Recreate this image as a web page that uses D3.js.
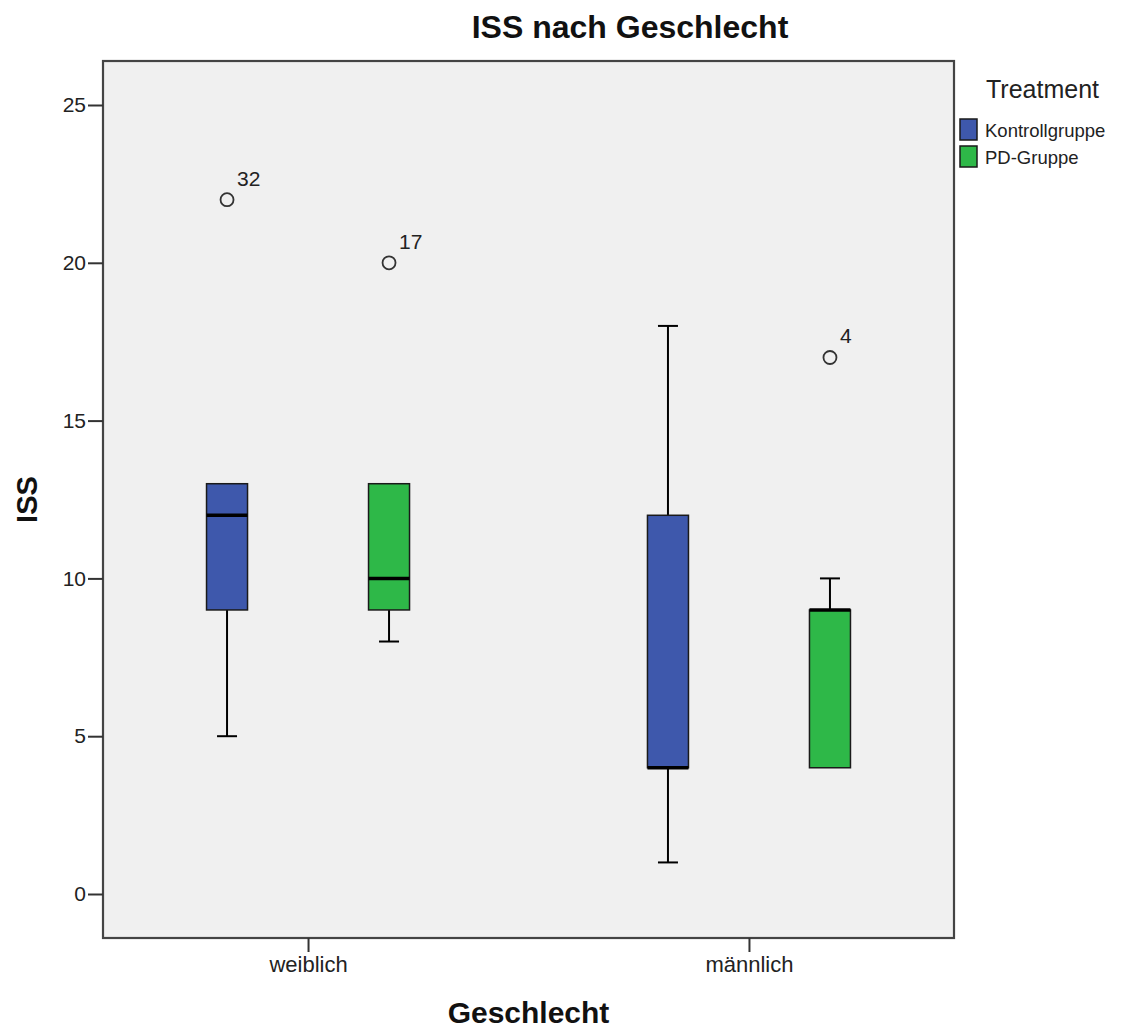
<!DOCTYPE html>
<html><head><meta charset="utf-8">
<script src="https://cdn.jsdelivr.net/npm/d3@7"></script>
<style>body{margin:0;background:#fff;} text{font-family:"Liberation Sans",Arial,sans-serif;}</style>
</head><body>
<script>
const categories = ["weiblich", "männlich"];
const groups = ["Kontrollgruppe", "PD-Gruppe"];
const groupColors = ["#3E58AC", "#2EB848"];
// [min, q1, median, q3, max] per category, per group
const kontrollStats = [[5, 9, 12, 13, 13], [1, 4, 4, 12, 18]];
const pdStats = [[8, 9, 10, 13, 13], [4, 4, 9, 9, 10]];
// outliers: [category, group, value, case label]
const outliers = [["weiblich", "Kontrollgruppe", 22, "32"], ["weiblich", "PD-Gruppe", 20, "17"], ["männlich", "PD-Gruppe", 17, "4"]];
const yTicks = [0, 5, 10, 15, 20, 25];

const W = 1140, H = 1028;
const m = {left: 103, top: 61, right: 954, bottom: 938};
const svg = d3.select("body").append("svg").attr("width", W).attr("height", H);

const x = d3.scalePoint().domain(categories).range([m.left, m.right]).padding(0.465);
const xg = d3.scalePoint().domain(groups).range([-81, 81]);
const y = d3.scaleLinear().domain([0, 25]).range([894, 105]);
const color = d3.scaleOrdinal().domain(groups).range(groupColors);

svg.append("rect").attr("x", m.left).attr("y", m.top).attr("width", m.right - m.left).attr("height", m.bottom - m.top).attr("fill", "#F0F0F0");

const boxes = [];
categories.forEach((c, i) => {
  boxes.push({cat: c, grp: groups[0], s: kontrollStats[i]});
  boxes.push({cat: c, grp: groups[1], s: pdStats[i]});
});
const bw = 41, cap = 20;
const g = svg.append("g");
boxes.forEach(b => {
  const cx = x(b.cat) + xg(b.grp);
  const [mn, q1, md, q3, mx] = b.s;
  if (mx > q3) {
    g.append("line").attr("x1", cx).attr("x2", cx).attr("y1", y(q3)).attr("y2", y(mx)).attr("stroke", "#000").attr("stroke-width", 2);
    g.append("line").attr("x1", cx - cap / 2).attr("x2", cx + cap / 2).attr("y1", y(mx)).attr("y2", y(mx)).attr("stroke", "#000").attr("stroke-width", 2);
  }
  if (mn < q1) {
    g.append("line").attr("x1", cx).attr("x2", cx).attr("y1", y(q1)).attr("y2", y(mn)).attr("stroke", "#000").attr("stroke-width", 2);
    g.append("line").attr("x1", cx - cap / 2).attr("x2", cx + cap / 2).attr("y1", y(mn)).attr("y2", y(mn)).attr("stroke", "#000").attr("stroke-width", 2);
  }
  g.append("rect").attr("x", cx - bw / 2).attr("y", y(q3)).attr("width", bw).attr("height", y(q1) - y(q3))
    .attr("fill", color(b.grp)).attr("stroke", "#1a1a1a").attr("stroke-width", 1.5);
  g.append("line").attr("x1", cx - bw / 2).attr("x2", cx + bw / 2).attr("y1", y(md)).attr("y2", y(md)).attr("stroke", "#000").attr("stroke-width", 3.5);
});

outliers.forEach(o => {
  const cx = x(o[0]) + xg(o[1]);
  svg.append("circle").attr("cx", cx).attr("cy", y(o[2])).attr("r", 6.5).attr("fill", "none").attr("stroke", "#333").attr("stroke-width", 1.8);
  svg.append("text").attr("x", cx + 10).attr("y", y(o[2]) - 14).attr("font-size", 21).attr("fill", "#222").text(o[3]);
});

// frame
svg.append("rect").attr("x", m.left).attr("y", m.top).attr("width", m.right - m.left).attr("height", m.bottom - m.top)
  .attr("fill", "none").attr("stroke", "#444").attr("stroke-width", 2.2);

// y axis
const ya = svg.append("g").attr("transform", `translate(${m.left},0)`).call(d3.axisLeft(y).tickValues(yTicks).tickSize(15).tickPadding(2));
ya.select(".domain").remove();
ya.selectAll(".tick line").attr("stroke", "#333").attr("stroke-width", 2);
ya.selectAll(".tick text").attr("font-size", 21).attr("fill", "#222").style("font-family", "Liberation Sans, Arial, sans-serif");

// x axis
const xa = svg.append("g").attr("transform", `translate(0,${m.bottom})`).call(d3.axisBottom(x).tickSize(14).tickPadding(4));
xa.select(".domain").remove();
xa.selectAll(".tick line").attr("stroke", "#333").attr("stroke-width", 2);
xa.selectAll(".tick text").attr("font-size", 22).attr("fill", "#222").style("font-family", "Liberation Sans, Arial, sans-serif");

// titles
svg.append("text").attr("x", 630).attr("y", 38).attr("text-anchor", "middle").attr("font-size", 32).attr("font-weight", "bold").attr("fill", "#111").text("ISS nach Geschlecht");
svg.append("text").attr("x", (m.left + m.right) / 2).attr("y", 1023).attr("text-anchor", "middle").attr("font-size", 30).attr("font-weight", "bold").attr("fill", "#111").text("Geschlecht");
svg.append("text").attr("transform", `translate(37,${(m.top + m.bottom) / 2}) rotate(-90)`).attr("text-anchor", "middle").attr("font-size", 29).attr("font-weight", "bold").attr("fill", "#111").text("ISS");

// legend
const lg = svg.append("g");
lg.append("text").attr("x", 986).attr("y", 98).attr("font-size", 25).attr("fill", "#222").text("Treatment");
groups.forEach((gname, i) => {
  const yy = 119 + i * 27;
  lg.append("rect").attr("x", 960).attr("y", yy).attr("width", 17).attr("height", 21).attr("fill", color(gname)).attr("stroke", "#1a1a1a").attr("stroke-width", 1.5);
  lg.append("text").attr("x", 985).attr("y", yy + 18).attr("font-size", 18.5).attr("fill", "#222").text(gname);
});
</script>
</body></html>
